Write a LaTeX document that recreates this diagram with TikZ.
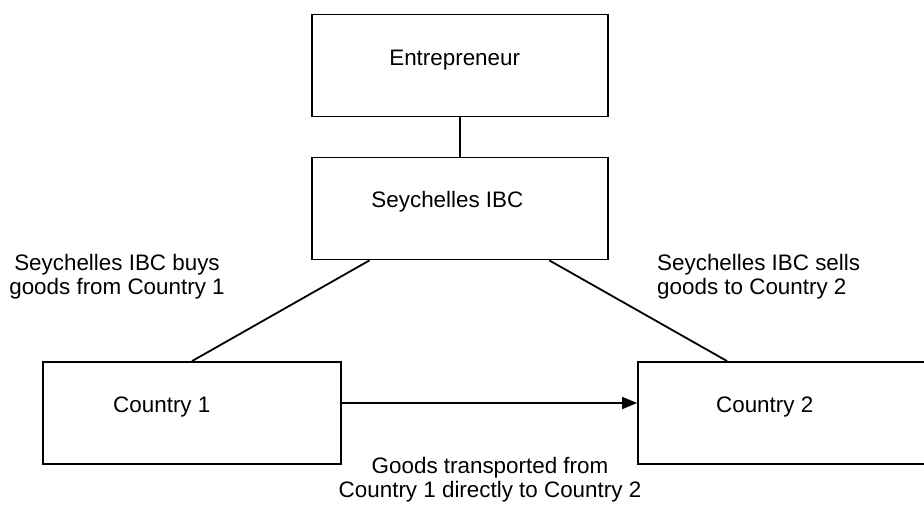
\documentclass[tikz,border=0pt]{standalone}
\usepackage{fontspec}
\setmainfont{Liberation Sans}
\usetikzlibrary{arrows.meta,calc}
\tikzset{
  box/.style={draw=black, line width=1.8pt, minimum width=296pt, minimum height=102pt, inner sep=0pt},
  txt/.style={inner sep=0pt, font=\fontsize{22.4}{24}\selectfont},
  conn/.style={draw=black, line width=1.8pt},
}
\begin{document}
\begin{tikzpicture}[x=1pt,y=-1pt]
\clip (0,0) rectangle (924,504);
\fill[white] (0,0) rectangle (924,504);
% boxes
\node[box] (ent) at (460,65.5) {};
\node[box] (ibc) at (460,208.5) {};
\node[box, minimum width=298pt] (c1) at (192,413) {};
\node[box, minimum width=298pt] (c2) at (787,413) {};
% box texts
\node[txt, anchor=base] (tent) at (454.7,65) {Entrepreneur};
\node[txt, anchor=base] (tibc) at (447.4,207) {Seychelles IBC};
\node[txt, anchor=base] (tc1) at (161.8,412.7) {Country 1};
\node[txt, anchor=base] (tc2) at (764.7,412.7) {Country 2};
% labels (base anchor = baseline of last line)
\node[txt, align=center, anchor=base] (lbuy) at (117,294) {Seychelles IBC buys\\goods from Country 1};
\node[txt, align=left, anchor=base west] (lsell) at (657,294) {Seychelles IBC sells\\goods to Country 2};
\node[txt, align=center, anchor=base] (lgoods) at (490,497.5) {Goods transported from\\Country 1 directly to Country 2};
% connectors
\draw[conn] (ent.south) -- (ibc.north);
\draw[conn] ($(ibc.south west)!0.196!(ibc.south east)$) -- (c1.north);
\draw[conn] ($(ibc.south west)!0.80!(ibc.south east)$) -- ($(c2.north west)+(90,0)$);
\coordinate (aend) at ($(c2.west)+(0,-10)$);
\draw[conn, -{Triangle[length=15pt,width=12pt]}] ($(c1.east)+(0,-10)$) -- (aend);
\end{tikzpicture}
\end{document}
